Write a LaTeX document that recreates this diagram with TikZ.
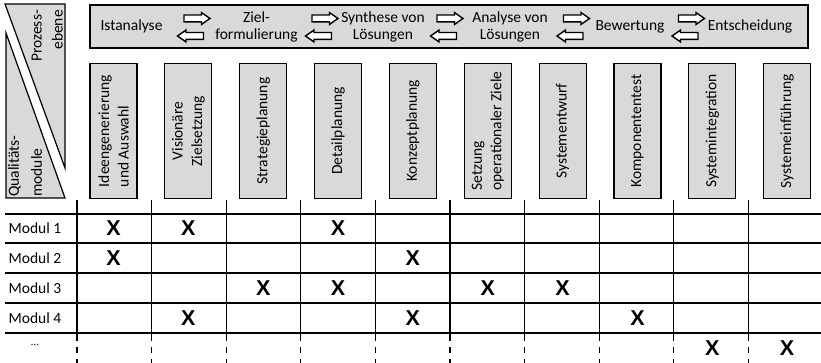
\documentclass[tikz,border=0pt]{standalone}
\usepackage{fontspec}
\setmainfont{Carlito}
\newfontfamily\markfont{Liberation Sans}
\usetikzlibrary{shapes.arrows}
\definecolor{panelgray}{RGB}{217,217,217}
\tikzset{
  txt/.style={font=\fontsize{15.5}{17}\selectfont, inner sep=0pt},
  stage/.style={txt, align=center},
  panel/.style={draw, fill=panelgray, line width=1.2pt},
  flowarrow/.style={single arrow, draw, fill=white, line width=1.4pt,
    minimum height=26pt, minimum width=10.5pt, single arrow head extend=2.5pt,
    single arrow tip angle=70, inner sep=0pt, text height=2.75pt, text depth=2.75pt},
  backarrow/.style={flowarrow, shape border rotate=180},
  colbox/.style={panel, rotate=90, minimum width=135pt, minimum height=47pt,
    inner sep=0pt, font=\fontsize{15.5}{19.5}\selectfont},
  gridline/.style={line width=1.2pt},
  xmark/.style={font=\markfont\bfseries\fontsize{21.5}{21.5}\selectfont, inner sep=0pt},
  rowlabel/.style={txt},
}
\begin{document}
\begin{tikzpicture}[x=1pt, y=-1pt]
\useasboundingbox (0,0) rectangle (821,363);

% corner header: two slanted halves
\filldraw[panel] (5,4) -- (65,4) -- (65,168) -- cycle;
\filldraw[panel] (6,33) -- (65,198) -- (6,198) -- cycle;
\node[txt, rotate=90, align=right, anchor=south east,
  font=\fontsize{15.5}{21}\selectfont] (pe) at (63,10) {Prozess-\\ebene};
\node[txt, rotate=90, align=left, anchor=north west,
  font=\fontsize{15.5}{23}\selectfont] (qm) at (8,197) {Qualitäts-\\module};

% process level
\node[panel, minimum width=718pt, minimum height=43pt, inner sep=0pt] (proc) at (449,26.5) {};
\node[stage] (s1) at (131.5,26.5) {Istanalyse};
\node[stage] (s2) at (256.5,26.5) {Ziel-\\formulierung};
\node[stage] (s3) at (383,26.5) {Synthese von\\Lösungen};
\node[stage] (s4) at (510,26.5) {Analyse von\\Lösungen};
\node[stage] (s5) at (630,26.5) {Bewertung};
\node[stage] (s6) at (750,26.5) {Entscheidung};
\foreach \i/\x in {1/194.5, 2/322.5, 3/447.5, 4/574, 5/689}{
  \node[flowarrow] (ar\i) at (\x,18.5) {};
  \node[backarrow] (al\i) at (\x-1.5,36) {};
}

% quality-module columns
\foreach \i/\t/\a in {
  1/{Ideengenerierung\\und Auswahl}/left,
  2/{Visionäre\\Zielsetzung}/center,
  3/Strategieplanung/center,
  4/Detailplanung/center,
  5/Konzeptplanung/center,
  6/{Setzung\\operationaler Ziele}/left,
  7/Systementwurf/center,
  8/Komponententest/center,
  9/Systemintegration/center,
  10/Systemeinführung/center}{
  \node[colbox, align=\a] (c\i) at ({113.5+74.85*(\i-1)},131) {\t};
}

% matrix grid
\foreach \y in {214,243,273,303,333}
  \draw[gridline] (5,\y) -- (821,\y);
\foreach \j in {1,...,10}{
  \draw[gridline] ({77+74.6*(\j-1)},200) -- ({77+74.6*(\j-1)},341);
  \draw[gridline, dash pattern=on 6pt off 6pt] ({77+74.6*(\j-1)},347) -- ({77+74.6*(\j-1)},365);
}

% row labels
\node[rowlabel] (r1) at (35,228.5) {Modul 1};
\node[rowlabel] (r2) at (35,258) {Modul 2};
\node[rowlabel] (r3) at (35,288) {Modul 3};
\node[rowlabel] (r4) at (35,318) {Modul 4};
\node[rowlabel, font=\fontsize{11}{11}\selectfont] (r5) at (35,345) {…};

% assignments
\foreach \r/\y/\cols in {1/228.5/{1,2,4}, 2/258/{1,5}, 3/288/{3,4,6,7}, 4/318/{2,5,8}, 5/348/{9,10}}{
  \foreach \c in \cols
    \node[xmark] (m\r-\c) at ({113.5+74.85*(\c-1)},\y) {X};
}
\end{tikzpicture}
\end{document}
